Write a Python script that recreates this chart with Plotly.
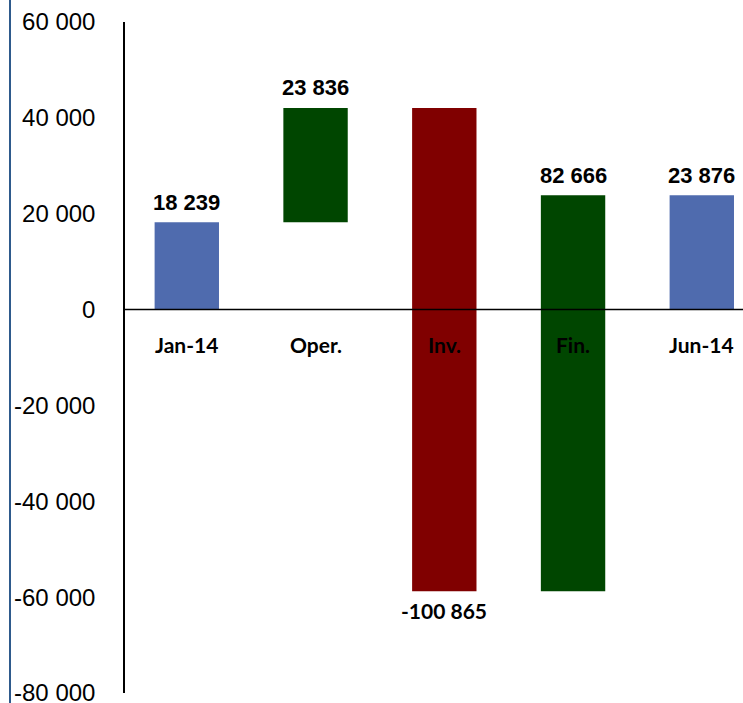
import plotly.graph_objects as go

# Cash flow bridge, Jan-14 to Jun-14
categories = ["Jan-14", "Oper.", "Inv.", "Fin.", "Jun-14"]
flows = [18239, 23836, -100865, 82666, 23876]
measures = ["absolute", "relative", "relative", "relative", "total"]

tick_values = [60000, 40000, 20000, 0, -20000, -40000, -60000, -80000]
tick_labels = ["60 000", "40 000", "20 000", "0", "-20 000", "-40 000", "-60 000", "-80 000"]

BLUE = "#4f6bae"
GREEN = "#004600"
RED = "#800000"


def fmt(v):
    s = f"{abs(v):,}".replace(",", " ")
    return ("-" if v < 0 else "") + s


# running totals give each bar's top / bottom
ends = []
running = 0
for v, m in zip(flows, measures):
    if m == "absolute":
        start, running = 0, v
    elif m == "total":
        start = 0
    else:
        start, running = running, running + v
    ends.append((start, running))

fig = go.Figure(
    go.Waterfall(
        x=list(range(len(categories))),
        y=flows,
        measure=measures,
        width=0.5,
        increasing=dict(marker=dict(color=GREEN)),
        decreasing=dict(marker=dict(color=RED)),
        totals=dict(marker=dict(color=BLUE)),
        connector=dict(visible=False),
        hoverinfo="skip",
    )
)

annotations = []
for i, (v, (a, b)) in enumerate(zip(flows, ends)):
    top, bottom = max(a, b), min(a, b)
    if v >= 0:
        annotations.append(dict(
            x=i, y=top, text=fmt(v), showarrow=False, yshift=20,
            font=dict(family="Liberation Sans", size=22, color="black", weight="bold"),
        ))
    else:
        annotations.append(dict(
            x=i, y=bottom, text=fmt(v), showarrow=False, yshift=-19,
            font=dict(family="Lato", size=21, color="black", weight="bold"),
        ))
    annotations.append(dict(
        x=i, y=0, text=categories[i], showarrow=False, yshift=-35,
        font=dict(family="Lato", size=21, color="black", weight="bold"),
    ))

fig.update_layout(
    width=743,
    height=703,
    margin=dict(l=125, r=0, t=22, b=10, autoexpand=False),
    paper_bgcolor="white",
    plot_bgcolor="white",
    showlegend=False,
    xaxis=dict(
        range=[-0.48, 4.32],
        showticklabels=False,
        showgrid=False,
        zeroline=False,
        showline=False,
        ticks="",
        automargin=False,
    ),
    yaxis=dict(
        range=[-80000, 60000],
        tickvals=tick_values,
        ticktext=tick_labels,
        showgrid=False,
        zeroline=False,
        showline=True,
        linecolor="black",
        linewidth=1.5,
        ticks="",
        ticklabelstandoff=23,
        ticklabeloverflow="allow",
        automargin=False,
        tickfont=dict(family="Liberation Sans", size=24, color="black"),
    ),
    annotations=annotations,
    shapes=[
        # zero baseline drawn over the bars
        dict(type="line", xref="paper", yref="y", x0=0, x1=1, y0=0, y1=0,
             line=dict(color="black", width=1.5), layer="above"),
        # left border of the chart frame
        dict(type="line", xref="paper", yref="paper",
             x0=-115 / 618, x1=-115 / 618, y0=-10 / 671, y1=1 + 22 / 671,
             line=dict(color="#2e5a8c", width=2), layer="above"),
    ],
)

fig.write_html("out.html")
